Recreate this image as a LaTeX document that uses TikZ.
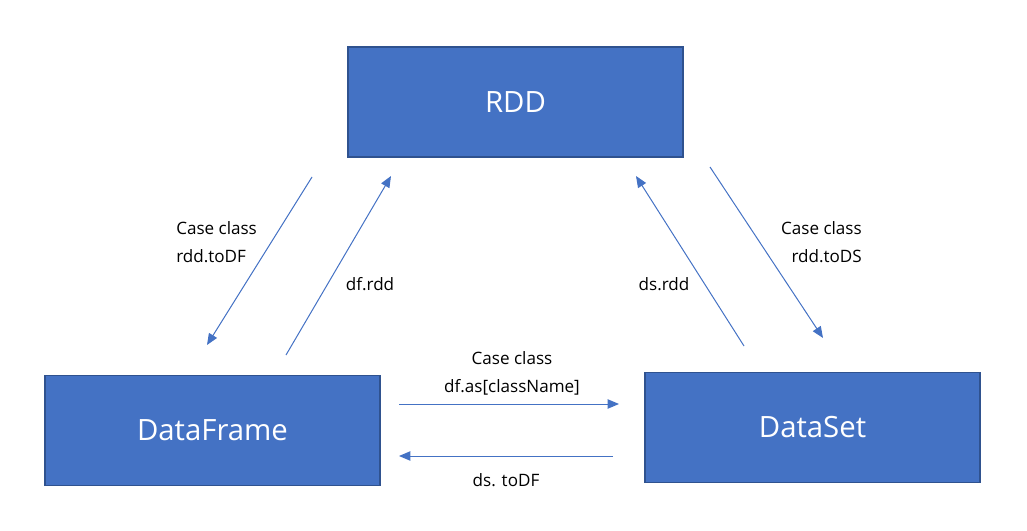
\documentclass[tikz,border=0pt]{standalone}
\usepackage{fontspec}
\setmainfont{Open Sans}
\usetikzlibrary{arrows.meta}
\definecolor{boxblue}{HTML}{4472C4}
\definecolor{boxedge}{HTML}{2F528F}

\begin{document}
\begin{tikzpicture}[x=0.75pt, y=-0.75pt,
	box/.style={rectangle, draw=boxedge, line width=1pt, fill=boxblue, text=white,
		minimum width=251.25pt, minimum height=82.5pt, font=\fontsize{22}{28}\selectfont},
	conv/.style={draw=boxblue, line width=0.75pt, -{Triangle[length=8.5pt, width=7pt]}},
	lbl/.style={font=\fontsize{12.8}{21}\selectfont, inner sep=0pt}]
	\useasboundingbox (0, 0) rectangle (1027, 531);

	\node[box] (RDD) at (515.5, 102) {RDD};
	\node[box] (DF) at (212.5, 430.5) {DataFrame};
	\node[box] (DS) at (812.5, 427.5) {DataSet};

	% end points of the conversions
	\coordinate (rdd2df s) at (312, 177);
	\coordinate (rdd2df e) at (207, 345);
	\coordinate (df2rdd s) at (286, 355);
	\coordinate (df2rdd e) at (391, 176);
	\coordinate (ds2rdd s) at (744, 346);
	\coordinate (ds2rdd e) at (636, 176);
	\coordinate (rdd2ds s) at (710, 167);
	\coordinate (rdd2ds e) at (823, 338);
	\coordinate (df2ds s) at (399, 404);
	\coordinate (df2ds e) at (619, 404);
	\coordinate (ds2df s) at (613, 456);
	\coordinate (ds2df e) at (399, 456);

	% Draw the conversions between the nodes
	\draw[conv] (rdd2df s) -- (rdd2df e);
	\draw[conv] (df2rdd s) -- (df2rdd e);
	\draw[conv] (ds2rdd s) -- (ds2rdd e);
	\draw[conv] (rdd2ds s) -- (rdd2ds e);
	\draw[conv] (df2ds s) -- (df2ds e);
	\draw[conv] (ds2df s) -- (ds2df e);

	\node[lbl, align=left, anchor=west] (rdd2df l) at (176, 242) {Case class\\rdd.toDF};
	\node[lbl] (df2rdd l) at (370, 284) {df.rdd};
	\node[lbl] (ds2rdd l) at (664, 284) {ds.rdd};
	\node[lbl, align=right, anchor=east] (rdd2ds l) at (862, 242) {Case class\\rdd.toDS};
	\node[lbl, align=center] (df2ds l) at (512, 373) {Case class\\df.as[className]};
	\node[lbl] (ds2df l) at (506, 480) {ds. toDF};
\end{tikzpicture}
\end{document}
